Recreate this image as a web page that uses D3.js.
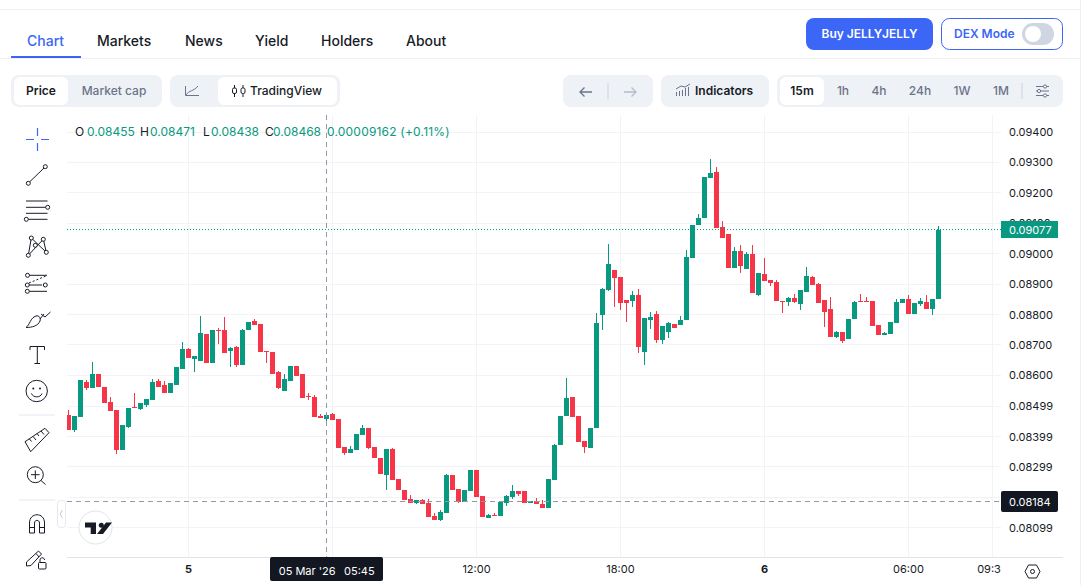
<!DOCTYPE html>
<html>
<head>
<meta charset="utf-8">
<script src="https://cdn.jsdelivr.net/npm/d3@7"></script>
<style>
  html, body { margin: 0; padding: 0; background: #fff; overflow: hidden; }
  svg { display: block; font-family: Inter, sans-serif; }
  svg text { font-family: Inter, sans-serif; }
</style>
</head>
<body>
<svg id="page" width="1081" height="585"></svg>
<script>
// 15m candles, the first one opens at 19:00 on 4 Mar
var firstBar = "2026-03-04T19:00:00Z";
var opens = [
  0.08468,0.08419,0.08462,0.08577,0.08557,0.08603,0.08560,0.08511,0.08485,0.08353,
  0.08429,0.08494,0.08488,0.08501,0.08517,0.08580,0.08567,0.08540,0.08567,0.08619,
  0.08685,0.08652,0.08646,0.08734,0.08639,0.08748,0.08748,0.08678,0.08692,0.08632,
  0.08748,0.08777,0.08767,0.08678,0.08675,0.08609,0.08547,0.08580,0.08629,0.08603,
  0.08531,0.08527,0.08465,0.08455,0.08471,0.08455,0.08363,0.08343,0.08353,0.08402,
  0.08425,0.08363,0.08327,0.08271,0.08356,0.08258,0.08222,0.08192,0.08179,0.08189,
  0.08179,0.08136,0.08123,0.08146,0.08271,0.08225,0.08182,0.08218,0.08287,0.08202,
  0.08129,0.08139,0.08136,0.08179,0.08199,0.08218,0.08218,0.08179,0.08185,0.08176,
  0.08162,0.08254,0.08369,0.08465,0.08527,0.08465,0.08383,0.08360,0.08425,0.08797,
  0.08879,0.08945,0.08922,0.08846,0.08843,0.08863,0.08675,0.08780,0.08800,0.08715,
  0.08741,0.08767,0.08764,0.08780,0.08984,0.09093,0.09116,0.09247,0.09267,0.09086,
  0.09063,0.08951,0.09007,0.08948,0.08997,0.08863,0.08932,0.08912,0.08905,0.08843,
  0.08840,0.08853,0.08833,0.08872,0.08922,0.08899,0.08846,0.08817,0.08725,0.08741,
  0.08718,0.08784,0.08843,0.08843,0.08843,0.08764,0.08731,0.08734,0.08771,0.08836,
  0.08849,0.08800,0.08833,0.08840,0.08817,0.08849
];
var highs = [
  0.08485,0.08465,0.08583,0.08583,0.08642,0.08603,0.08560,0.08527,0.08485,0.08435,
  0.08491,0.08540,0.08508,0.08521,0.08586,0.08586,0.08580,0.08573,0.08626,0.08708,
  0.08688,0.08662,0.08794,0.08734,0.08748,0.08754,0.08790,0.08692,0.08695,0.08751,
  0.08774,0.08784,0.08767,0.08678,0.08675,0.08613,0.08603,0.08629,0.08629,0.08603,
  0.08540,0.08534,0.08471,0.08471,0.08475,0.08455,0.08363,0.08366,0.08406,0.08435,
  0.08425,0.08363,0.08327,0.08356,0.08360,0.08258,0.08222,0.08205,0.08189,0.08192,
  0.08192,0.08146,0.08156,0.08274,0.08271,0.08225,0.08222,0.08287,0.08287,0.08202,
  0.08143,0.08146,0.08182,0.08205,0.08238,0.08218,0.08218,0.08185,0.08195,0.08189,
  0.08258,0.08373,0.08465,0.08590,0.08527,0.08465,0.08383,0.08425,0.08803,0.08886,
  0.09030,0.08945,0.08922,0.08846,0.08876,0.08882,0.08787,0.08807,0.08810,0.08761,
  0.08774,0.08767,0.08794,0.09011,0.09093,0.09129,0.09250,0.09310,0.09283,0.09106,
  0.09063,0.09020,0.09027,0.09004,0.09027,0.08935,0.08984,0.08912,0.08912,0.08843,
  0.08856,0.08866,0.08879,0.08955,0.08925,0.08902,0.08846,0.08856,0.08744,0.08741,
  0.08784,0.08843,0.08866,0.08856,0.08843,0.08764,0.08741,0.08774,0.08849,0.08849,
  0.08863,0.08836,0.08853,0.08863,0.08849,0.09089
];
var lows = [
  0.08419,0.08412,0.08462,0.08550,0.08557,0.08560,0.08508,0.08481,0.08340,0.08353,
  0.08425,0.08491,0.08485,0.08494,0.08517,0.08560,0.08540,0.08540,0.08567,0.08619,
  0.08655,0.08609,0.08646,0.08639,0.08639,0.08702,0.08672,0.08626,0.08626,0.08632,
  0.08748,0.08764,0.08675,0.08639,0.08603,0.08554,0.08547,0.08580,0.08596,0.08524,
  0.08517,0.08462,0.08458,0.08438,0.08452,0.08360,0.08337,0.08343,0.08353,0.08402,
  0.08356,0.08327,0.08274,0.08222,0.08254,0.08222,0.08189,0.08179,0.08176,0.08176,
  0.08133,0.08123,0.08120,0.08146,0.08222,0.08179,0.08182,0.08218,0.08199,0.08133,
  0.08129,0.08136,0.08136,0.08169,0.08192,0.08202,0.08179,0.08179,0.08176,0.08162,
  0.08162,0.08254,0.08369,0.08465,0.08462,0.08379,0.08343,0.08360,0.08425,0.08748,
  0.08876,0.08823,0.08813,0.08774,0.08823,0.08672,0.08632,0.08751,0.08705,0.08702,
  0.08721,0.08754,0.08764,0.08780,0.08984,0.09093,0.09116,0.09247,0.09083,0.09050,
  0.08951,0.08951,0.08935,0.08948,0.08869,0.08859,0.08909,0.08892,0.08843,0.08803,
  0.08826,0.08836,0.08813,0.08872,0.08895,0.08836,0.08757,0.08725,0.08721,0.08705,
  0.08718,0.08784,0.08840,0.08840,0.08761,0.08731,0.08731,0.08734,0.08771,0.08836,
  0.08800,0.08800,0.08826,0.08817,0.08797,0.08849
];
var closes = [
  0.08419,0.08465,0.08583,0.08557,0.08603,0.08560,0.08508,0.08481,0.08353,0.08435,
  0.08491,0.08491,0.08508,0.08521,0.08577,0.08560,0.08540,0.08573,0.08626,0.08685,
  0.08655,0.08662,0.08738,0.08639,0.08748,0.08744,0.08672,0.08688,0.08632,0.08748,
  0.08774,0.08764,0.08675,0.08675,0.08603,0.08557,0.08586,0.08629,0.08596,0.08524,
  0.08527,0.08462,0.08458,0.08468,0.08452,0.08360,0.08343,0.08356,0.08406,0.08425,
  0.08360,0.08327,0.08274,0.08356,0.08254,0.08222,0.08189,0.08179,0.08189,0.08176,
  0.08133,0.08123,0.08149,0.08271,0.08222,0.08182,0.08222,0.08287,0.08199,0.08133,
  0.08139,0.08136,0.08182,0.08202,0.08218,0.08208,0.08179,0.08185,0.08176,0.08162,
  0.08258,0.08369,0.08465,0.08524,0.08462,0.08379,0.08363,0.08425,0.08771,0.08882,
  0.08964,0.08918,0.08836,0.08836,0.08863,0.08692,0.08787,0.08790,0.08715,0.08761,
  0.08771,0.08754,0.08780,0.08988,0.09093,0.09116,0.09250,0.09264,0.09083,0.09050,
  0.08951,0.09007,0.08958,0.08997,0.08869,0.08935,0.08909,0.08902,0.08843,0.08840,
  0.08853,0.08840,0.08879,0.08925,0.08895,0.08836,0.08807,0.08725,0.08741,0.08711,
  0.08784,0.08840,0.08840,0.08840,0.08761,0.08731,0.08738,0.08774,0.08840,0.08849,
  0.08800,0.08836,0.08843,0.08817,0.08849,0.09077
];
// 0.08199 has a grid line only, its label sits under the crosshair tag
var gridPrices = [0.094,0.093,0.092,0.091,0.09,0.089,0.088,0.087,0.086,0.08499,0.08399,0.08299,0.08199,0.08099];
var priceTicks = [0.094,0.093,0.092,0.091,0.09,0.089,0.088,0.087,0.086,0.08499,0.08399,0.08299,0.08099];
var timeTicks = ["2026-03-05T00:00:00Z","2026-03-05T06:00:00Z","2026-03-05T12:00:00Z","2026-03-05T18:00:00Z","2026-03-06T00:00:00Z","2026-03-06T06:00:00Z","2026-03-06T09:30:00Z"];
var timeLabels = ["5","","12:00","18:00","6","06:00","09:30"];
var crossTime = "2026-03-05T05:45:00Z";
var crossPrice = 0.08184;
var lastPrice = 0.09077;

var tabs = ["Chart","Markets","News","Yield","Holders","About"];
var tabX = [27,97,185,255,321,406];
var legendLabels = ["O","H","L","C"];
var legendValues = ["0.08455","0.08471","0.08438","0.08468"];
var legendLabelX = [75,140,203,265];
var legendValueX = [87,150,211,273];
var intervals = ["15m","1h","4h","24h","1W","1M"];
var intervalX = [802,843,879,920,962,1001];

var BLUE = "#3b66f6", INK = "#171b26", SLATE = "#6b7489", PANEL = "#eef1f5";
var UP = "#089981", DOWN = "#f63648", GRID = "#f1f3f7";

var svg = d3.select("#page");
var bars = opens.map(function(o, i) {
  return {t: d3.utcMinute.offset(new Date(firstBar), i * 15), o: o, h: highs[i], l: lows[i], c: closes[i]};
});

var x = d3.scaleUtc()
  .domain([new Date("2026-03-05T00:00:00Z"), new Date("2026-03-06T00:00:00Z")])
  .range([188.5, 764.5]);
var y = d3.scaleLinear().domain([0.094, 0.08099]).range([131.5, 527.3]);

var left = 67, right = 1001, top_ = 115, bottom = 557;

var defs = svg.append("defs");
defs.append("clipPath").attr("id", "pane").append("rect")
  .attr("x", left).attr("y", top_).attr("width", right - left).attr("height", bottom - top_);
defs.append("clipPath").attr("id", "timeClip").append("rect")
  .attr("x", left).attr("y", bottom).attr("width", right - left).attr("height", 28);

function line(x1, y1, x2, y2, color, width) {
  return svg.append("line").attr("x1", x1).attr("y1", y1).attr("x2", x2).attr("y2", y2)
    .attr("stroke", color).attr("stroke-width", width || 1);
}
function box(xx, yy, w, h, r, fill) {
  return svg.append("rect").attr("x", xx).attr("y", yy).attr("width", w).attr("height", h)
    .attr("rx", r).attr("fill", fill);
}
function label(xx, yy, s, size, weight, color, anchor) {
  return svg.append("text").attr("x", xx).attr("y", yy).text(s)
    .attr("font-size", size).attr("font-weight", weight).attr("fill", color)
    .attr("text-anchor", anchor || "start");
}
function icon(d, color, width) {
  return svg.append("path").attr("d", d).attr("fill", "none")
    .attr("stroke", color).attr("stroke-width", width || 1);
}
function ring(cx, cy, r, color) {
  return svg.append("circle").attr("cx", cx).attr("cy", cy).attr("r", r)
    .attr("fill", "#fff").attr("stroke", color || INK).attr("stroke-width", 1);
}

// page header
line(0, 9.5, 1081, 9.5, "#eef0f4");
line(0, 58.5, 1081, 58.5, "#eef0f4");
line(1080.5, 0, 1080.5, 585, "#eef0f4");
svg.selectAll("text.tab").data(tabs).join("text").attr("class", "tab")
  .attr("x", function(d, i) { return tabX[i]; }).attr("y", 46)
  .attr("font-size", 14).attr("font-weight", 500)
  .attr("fill", function(d, i) { return i == 0 ? BLUE : INK; })
  .text(function(d) { return d; });
box(11, 56, 70, 2, 0, BLUE);

box(806, 18, 127, 32, 8, BLUE);
label(869.5, 38, "Buy JELLYJELLY", 12, 600, "#fff", "middle");
box(941.5, 18.5, 121, 31, 8, "#fff").attr("stroke", BLUE);
label(954, 38, "DEX Mode", 12, 600, BLUE);
box(1022, 23, 32, 22, 11, "#cfd6e2");
svg.append("circle").attr("cx", 1033).attr("cy", 34).attr("r", 8).attr("fill", "#fff");

// toolbar
box(11, 75, 151, 32, 8, PANEL);
box(14, 77, 54, 28, 6, "#fff");
label(41, 95, "Price", 12, 600, INK, "middle");
label(114, 95, "Market cap", 12, 500, SLATE, "middle");

box(170, 75, 170, 32, 8, PANEL);
box(218, 77, 119, 28, 6, "#fff");
icon("M185.5 86V95.5H199M186 95C189 90 193 92 198 86", SLATE);
icon("M234.5 85V97M243 85V97", INK);
box(232.5, 88, 4, 5.5, 1.5, "#fff").attr("stroke", INK);
box(241, 88, 4, 5.5, 1.5, "#fff").attr("stroke", INK);
label(250, 95, "TradingView", 12, 500, INK);

box(563, 75, 90, 32, 8, PANEL);
icon("M580 92H592M584.5 87.5L580 92L584.5 96.5", SLATE, 1.3);
line(608, 83, 608, 99, "#ccd2dd");
icon("M624 92H636M631.5 87.5L636 92L631.5 96.5", "#b4bbc9", 1.3);

box(661, 75, 108, 32, 8, PANEL);
icon("M676.5 96V92M679.5 96V91M682.5 96V90M685.5 96V88M688.5 96V87M676 89L681 86L685 87L690 84", SLATE);
label(695, 95, "Indicators", 12, 600, INK);

box(777, 75, 286, 32, 8, PANEL);
box(780, 77, 44, 28, 6, "#fff");
svg.selectAll("text.interval").data(intervals).join("text").attr("class", "interval")
  .attr("x", function(d, i) { return intervalX[i]; }).attr("y", 95)
  .attr("text-anchor", "middle").attr("font-size", 12)
  .attr("font-weight", function(d, i) { return i == 0 ? 600 : 500; })
  .attr("fill", function(d, i) { return i == 0 ? INK : SLATE; })
  .text(function(d) { return d; });
line(1022, 83, 1022, 99, "#ccd2dd");
icon("M1036 86.5H1049M1036 91H1049M1036 95.5H1049", SLATE);
ring(1045, 86.5, 1.6, SLATE); ring(1039, 91, 1.6, SLATE); ring(1045, 95.5, 1.6, SLATE);

// grid
svg.append("g").selectAll("line").data(gridPrices).join("line")
  .attr("x1", left).attr("x2", right)
  .attr("y1", function(d) { return Math.round(y(d)) + 0.5; })
  .attr("y2", function(d) { return Math.round(y(d)) + 0.5; })
  .attr("stroke", GRID);
svg.append("g").selectAll("line").data(timeTicks).join("line")
  .attr("x1", function(d) { return x(new Date(d)); })
  .attr("x2", function(d) { return x(new Date(d)); })
  .attr("y1", top_).attr("y2", bottom).attr("stroke", GRID);

// candles
var pane = svg.append("g").attr("clip-path", "url(#pane)").attr("shape-rendering", "crispEdges");
pane.selectAll("rect.wick").data(bars).join("rect").attr("class", "wick")
  .attr("x", function(d) { return x(d.t) - 0.5; }).attr("width", 1)
  .attr("y", function(d) { return y(d.h); })
  .attr("height", function(d) { return Math.max(1, y(d.l) - y(d.h)); })
  .attr("fill", function(d) { return d.c >= d.o ? UP : DOWN; });
pane.selectAll("rect.body").data(bars).join("rect").attr("class", "body")
  .attr("x", function(d) { return x(d.t) - 2.5; }).attr("width", 5)
  .attr("y", function(d) { return y(Math.max(d.o, d.c)); })
  .attr("height", function(d) { return Math.max(1, Math.abs(y(d.o) - y(d.c))); })
  .attr("fill", function(d) { return d.c >= d.o ? UP : DOWN; });

// last price and crosshair lines
var lastY = Math.floor(y(lastPrice)) + 0.5, crossY = Math.floor(y(crossPrice)) + 0.5;
line(left, lastY, right, lastY, UP).attr("stroke-dasharray", "1 2");
line(left, crossY, right, crossY, "#9598a1").attr("stroke-dasharray", "5 4");
line(x(new Date(crossTime)), top_, x(new Date(crossTime)), bottom, "#9598a1").attr("stroke-dasharray", "5 4");

// legend
svg.selectAll("text.lab").data(legendLabels).join("text").attr("class", "lab")
  .attr("x", function(d, i) { return legendLabelX[i]; }).attr("y", 136)
  .attr("font-size", 12).attr("fill", INK).text(function(d) { return d; });
svg.selectAll("text.val").data(legendValues).join("text").attr("class", "val")
  .attr("x", function(d, i) { return legendValueX[i]; }).attr("y", 136)
  .attr("font-size", 12).attr("fill", UP).text(function(d) { return d; });
label(327, 136, "0.00009162 (+0.11%)", 12, 400, UP).attr("letter-spacing", 0.2);

// axes
line(left, bottom + 0.5, 1063, bottom + 0.5, "#e0e3eb");
var priceAxis = d3.axisRight(y).tickValues(priceTicks).tickSize(0).tickPadding(0)
  .tickFormat(d3.format(".5f"));
var timeAxis = d3.axisBottom(x).tickValues(timeTicks.map(function(d) { return new Date(d); }))
  .tickSize(0).tickPadding(0)
  .tickFormat(function(d, i) { return timeLabels[i]; });
var py = svg.append("g").attr("transform", "translate(1009,0.5)").call(priceAxis);
py.select(".domain").remove();
py.selectAll("text").attr("font-size", 11).attr("fill", INK).attr("font-family", "Inter");
var tx = svg.append("g").attr("clip-path", "url(#timeClip)").append("g")
  .attr("transform", "translate(-0.5," + (bottom + 8) + ")").call(timeAxis);
tx.select(".domain").remove();
tx.selectAll("text").attr("font-size", 11).attr("fill", INK).attr("font-family", "Inter")
  .attr("font-weight", function(d, i) { return timeLabels[i].length == 1 ? 700 : 400; });

// axis tags
box(1001, 221, 57, 17, 0, UP);
label(1009, 233.5, d3.format(".5f")(lastPrice), 11, 400, "#fff");
box(1001, 491, 57, 21, 2, "#131722");
label(1009, 505.5, d3.format(".5f")(crossPrice), 11, 400, "#fff");
box(270, 557, 113, 24, 2, "#131722");
label(278.7, 575, "05 Mar '26", 11, 400, "#fff");
label(344, 575, "05:45", 11, 400, "#fff");

// settings hexagon
icon("M1025 571.5L1028.5 565H1036.5L1040 571.5L1036.5 578H1028.5Z", INK);
svg.append("circle").attr("cx", 1032.5).attr("cy", 571.5).attr("r", 2).attr("fill", "none").attr("stroke", INK);

// tradingview badge
svg.append("circle").attr("cx", 95.5).attr("cy", 527.5).attr("r", 16.5).attr("fill", "#fff").attr("stroke", "#e0e3eb");
svg.append("path").attr("d", "M85 522.5H96V534H90.7V527.5H85ZM106 522.5H112L103 534H97Z").attr("fill", INK);
svg.append("circle").attr("cx", 101.3).attr("cy", 525.3).attr("r", 2.5).attr("fill", INK);

// drawing tools
icon("M26 139.5H34M41 139.5H49M37.5 128V136M37.5 143V151", BLUE, 1.2);
icon("M29.5 182L44 168", INK); ring(28.3, 183.3, 2, INK); ring(45.3, 166.7, 2, INK);
icon("M26 201H47.5M26 207.3H46M26 213.3H47.5M28 219.3H47.5", INK); ring(47.7, 207.3, 2); ring(26.3, 219.3, 2);
icon("M31.3 238L28.3 255.3L43.3 239.3L46.3 252.3Z", INK);
ring(31.3, 238, 2); ring(43.3, 239.3, 2); ring(35.3, 245.3, 2); ring(28.3, 255.3, 2); ring(46.3, 252.3, 2);
icon("M29 275.3H47M29 285H42M29 291.3H47", INK);
icon("M29 283L46 276", INK).attr("stroke-dasharray", "2 2");
ring(27.5, 275.3, 2); ring(27.3, 285, 2); ring(45.3, 285, 2); ring(27.3, 291.3, 2);
icon("M26 327.5C30 325 30 318 36 316C39 315 41 318 40 321C38 326 32 327.5 26 327.5ZM40 319L44 314M41 314L45 317L50.5 312", INK);
icon("M30 350V346.5H44.5V350M37.3 346.5V363.5M34.5 363.5H40", INK);
ring(36.7, 391, 10.7);
svg.append("circle").attr("cx", 33.3).attr("cy", 388.5).attr("r", 1).attr("fill", INK);
svg.append("circle").attr("cx", 40).attr("cy", 388.5).attr("r", 1).attr("fill", INK);
icon("M31.5 393.5C33 398 40.5 398 42 393.5", INK);
line(19, 415, 55, 415, "#e6e8ef");
icon("M25 441.7L45 428.3L49 432.7L30.7 451.7ZM29.5 439L31.5 441.5M33 436.5L36 440M37 433.5L39 436M41 431L44 434.5", INK);
ring(35.3, 474.7, 8);
icon("M31 474.7H39.6M35.3 470.4V479M41 480.5L45.5 484.5", INK);
line(19, 500, 55, 500, "#e6e8ef");
box(57.5, 500.5, 8, 27, 3, "#fff").attr("stroke", "#e6e8ef");
icon("M62.5 510L60 514L62.5 518", "#c2c7d3");
icon("M29.5 533V523C29.5 512 44.5 512 44.5 523V533H39.5V523C39.5 519.5 34.5 519.5 34.5 523V533ZM29.5 527.5H34.5M39.5 527.5H44.5", INK);
icon("M26.5 562L38.5 551L41.5 554L31 565.5L26.5 566ZM36 553.5L39 557", INK);
box(38.5, 562.5, 7.5, 6.5, 1, "#fff").attr("stroke", INK);
icon("M40 562.5V560C40 557 44.5 557 44.5 560", INK);
</script>
</body>
</html>
